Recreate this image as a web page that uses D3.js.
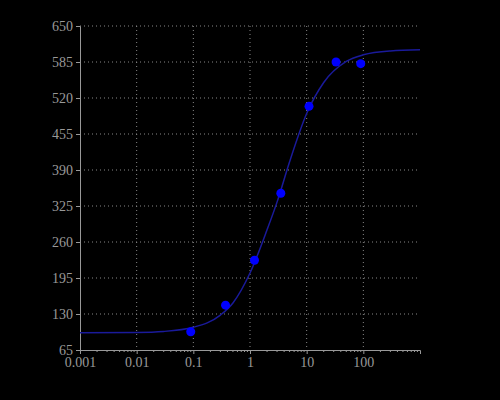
<!DOCTYPE html>
<html><head><meta charset="utf-8">
<script src="https://cdn.jsdelivr.net/npm/d3@7"></script>
<style>html,body{margin:0;background:#000;}</style>
</head><body>
<svg id="c" width="500" height="400"></svg>
<script>
const pointX = [0.09, 0.37, 1.2, 3.5, 11, 33, 90];
const pointY = [98, 146, 227, 348, 505, 585, 582];
const curveX = [0.001, 0.01, 0.03, 0.1, 0.3, 0.5, 1, 2, 3, 5, 10, 20, 50, 100, 300, 1000];
const curveY = [96, 96.7, 98.5, 106, 128, 150, 204, 282, 332, 405, 492, 548, 586, 598, 605, 607];
const xTicks = [0.001, 0.01, 0.1, 1, 10, 100];
const xTickLabels = ["0.001", "0.01", "0.1", "1", "10", "100"];
const yTicks = [65, 130, 195, 260, 325, 390, 455, 520, 585, 650];

const svg = d3.select("#c");
svg.append("rect").attr("width",500).attr("height",400).attr("fill","#000");
const m = {l:80, r:420, t:26, b:350};
const x = d3.scaleLog().domain([0.001, 1000]).range([m.l, m.r]);
const y = d3.scaleLinear().domain([65, 650]).range([m.b, m.t]);

const g = svg.append("g");
g.selectAll(".vg").data(xTicks.slice(1)).join("line")
  .attr("x1",d=>x(d)).attr("x2",d=>x(d)).attr("y1",m.t).attr("y2",m.b)
  .attr("stroke","#888").attr("stroke-dasharray","1,3");
g.selectAll(".hg").data(yTicks.slice(1)).join("line")
  .attr("x1",m.l).attr("x2",m.r).attr("y1",d=>y(d)).attr("y2",d=>y(d))
  .attr("stroke","#888").attr("stroke-dasharray","1,3");

const font = "'Liberation Serif', 'DejaVu Serif', serif";
const xa = svg.append("g").attr("transform",`translate(0,${m.b})`)
  .call(d3.axisBottom(x).tickValues(xTicks).tickFormat((d,i)=>xTickLabels[i]).tickSize(4));
const ya = svg.append("g").attr("transform",`translate(${m.l},0)`)
  .call(d3.axisLeft(y).tickValues(yTicks).tickSize(4));
[xa, ya].forEach(a=>{
  a.selectAll("path,line").attr("stroke","#999");
  a.selectAll("text").attr("fill","#999").style("font-family",font).style("font-size","14px");
});
const minor = [];
for (let e=-3; e<3; e++) for (let k=2;k<10;k++) minor.push(k*Math.pow(10,e));
svg.append("g").selectAll("line").data(minor).join("line")
  .attr("x1",d=>x(d)).attr("x2",d=>x(d)).attr("y1",m.b).attr("y2",m.b+2).attr("stroke","#999");

const line = d3.line().x(d=>x(d[0])).y(d=>y(d[1])).curve(d3.curveMonotoneX);
svg.append("path").datum(curveX.map((v,i)=>[v,curveY[i]]))
  .attr("d",line).attr("fill","none").attr("stroke","#1a1a9a").attr("stroke-width",1.5);

svg.append("g").selectAll("circle").data(pointX.map((v,i)=>[v,pointY[i]])).join("circle")
  .attr("cx",d=>x(d[0])).attr("cy",d=>y(d[1])).attr("r",4.5).attr("fill","#0000ff");
</script>
</body></html>
